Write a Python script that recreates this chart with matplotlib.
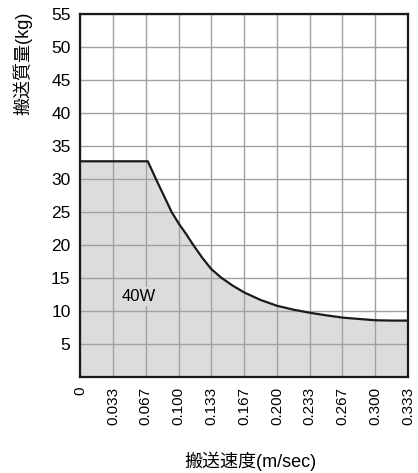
import matplotlib
matplotlib.use("Agg")
import matplotlib.pyplot as plt
import numpy as np

plt.rcParams["font.family"] = ["Liberation Sans", "Noto Sans CJK JP", "DejaVu Sans"]

# curve (speed m/sec, mass kg)
speed = [0, 0.0687, 0.077, 0.093, 0.100, 0.108, 0.115, 0.124, 0.133, 0.143,
         0.155, 0.167, 0.183, 0.200, 0.217, 0.233, 0.250, 0.267, 0.283,
         0.300, 0.317, 0.333]
mass = [32.7, 32.7, 30.0, 25.0, 23.3, 21.6, 20.0, 18.1, 16.4, 15.1,
        13.85, 12.8, 11.7, 10.8, 10.2, 9.75, 9.35, 9.0, 8.8,
        8.6, 8.55, 8.55]

xticks = [0, 1/30, 2/30, 3/30, 4/30, 5/30, 6/30, 7/30, 8/30, 9/30, 10/30]
xlabels = ["0", "0.033", "0.067", "0.100", "0.133", "0.167", "0.200",
           "0.233", "0.267", "0.300", "0.333"]
yticks = [5, 10, 15, 20, 25, 30, 35, 40, 45, 50, 55]

fig = plt.figure(figsize=(4.18, 4.73), dpi=100)
ax = fig.add_axes([0.192, 0.203, 0.784, 0.767])

ax.fill_between(speed, mass, 0, color="#dcdcdf", zorder=1, linewidth=0)
ax.plot(speed, mass, color="#1a1a1a", linewidth=1.6, zorder=3)

ax.set_xlim(0, 1/3)
ax.set_ylim(0, 55)
ax.set_xticks(xticks)
ax.set_xticklabels(xlabels, rotation=90, fontsize=11)
ax.set_yticks(yticks)
ax.set_yticklabels([str(v) for v in yticks], fontsize=12.5)
ax.tick_params(length=0, pad=7)
ax.grid(True, color="#a0a0a0", linewidth=1, zorder=2)
ax.set_axisbelow(False)
for s in ax.spines.values():
    s.set_linewidth(1.6)
    s.set_color("#1a1a1a")
    s.set_zorder(4)

ax.text(0.059, 12.2, "40W", fontsize=12, ha="center", va="center", zorder=3,
        bbox=dict(facecolor="#dcdcdf", edgecolor="none", pad=1.5))

fig.text(0.053, 0.867, "搬送質量(kg)", rotation=90, ha="center", va="center", fontsize=13)
fig.text(0.600, 0.025, "搬送速度(m/sec)", ha="center", va="center", fontsize=13)

fig.savefig("out.png", dpi=100)
